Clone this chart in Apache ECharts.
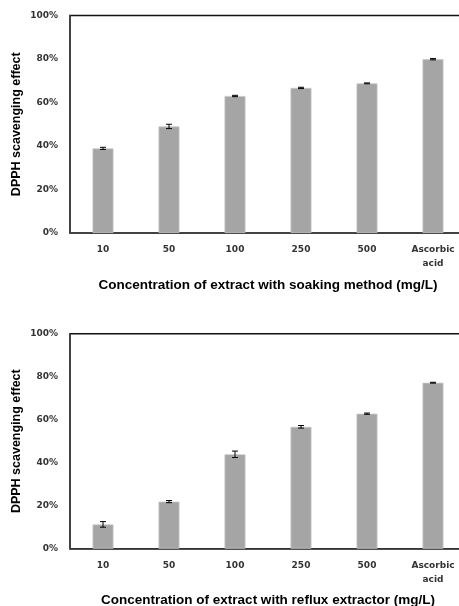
<!DOCTYPE html>
<html><head><meta charset="utf-8">
<script src="https://cdn.jsdelivr.net/npm/echarts@6/dist/echarts.min.js"></script>
<style>html,body{margin:0;padding:0;background:#fff}#c{width:459px;height:606px}</style>
</head><body><div id="c"></div>
<script>
const categories = ['10', '50', '100', '250', '500', 'Ascorbic\nacid'];
const yTicks = [0, 20, 40, 60, 80, 100];
const soakValues = [38.9, 49.0, 63.0, 66.7, 68.8, 79.9];
const soakErrors = [0.5, 1.0, 0.3, 0.3, 0.2, 0.3];
const refluxValues = [11.3, 21.9, 43.9, 56.7, 62.8, 77.2];
const refluxErrors = [1.3, 0.5, 1.5, 0.6, 0.3, 0.2];
const xTitles = ['Concentration of extract with soaking method (mg/L)', 'Concentration of extract with reflux extractor (mg/L)'];
const yTitle = 'DPPH scavenging effect';

const chart = echarts.init(document.getElementById('c'));
const grids = [
  {left: 70, top: 15.5, width: 396, height: 217.5},
  {left: 70, top: 333.7, width: 396, height: 215}
];
function xAxis(i) {
  return {
    type: 'category', gridIndex: i, data: categories,
    axisLine: {lineStyle: {color: '#404040', width: 1.5}},
    axisTick: {show: false},
    axisLabel: {color: '#333', fontSize: 9, fontWeight: 'bold', fontFamily: 'DejaVu Sans', margin: 10, lineHeight: 14},
    name: xTitles[i], nameLocation: 'middle', nameGap: 45,
    nameTextStyle: {fontSize: 13.5, fontWeight: 'bold', color: '#000', fontFamily: 'Liberation Sans'}
  };
}
function yAxis(i) {
  return {
    type: 'value', gridIndex: i, min: 0, max: 100, interval: 20,
    axisLine: {show: true, lineStyle: {color: '#404040', width: 1.5}},
    axisTick: {show: false},
    splitLine: {show: false},
    axisLabel: {color: '#333', fontSize: 9, fontWeight: 'bold', fontFamily: 'DejaVu Sans', margin: 12, formatter: v => v + '%'},
    name: yTitle, nameLocation: 'middle', nameGap: 47, nameMoveOverlap: false,
    nameTextStyle: {fontSize: 12.5, fontWeight: 'bold', color: '#000', fontFamily: 'Liberation Sans'}
  };
}
function errSeries(i, vals, errs) {
  return {
    type: 'custom', xAxisIndex: i, yAxisIndex: i, z: 10,
    data: vals.map((v, k) => [k, v - errs[k], v + errs[k]]),
    renderItem: function (params, api) {
      const lo = api.coord([api.value(0), api.value(1)]);
      const hi = api.coord([api.value(0), api.value(2)]);
      const hw = 3;
      const st = {stroke: '#000', lineWidth: 1};
      return {type: 'group', children: [
        {type: 'line', shape: {x1: lo[0], y1: lo[1], x2: hi[0], y2: hi[1]}, style: st},
        {type: 'line', shape: {x1: lo[0]-hw, y1: lo[1], x2: lo[0]+hw, y2: lo[1]}, style: st},
        {type: 'line', shape: {x1: hi[0]-hw, y1: hi[1], x2: hi[0]+hw, y2: hi[1]}, style: st}
      ]};
    }
  };
}
function barSeries(i, vals) {
  return {
    type: 'bar', xAxisIndex: i, yAxisIndex: i, data: vals, barWidth: 21,
    itemStyle: {color: '#a5a5a5', borderColor: '#c8c8c8', borderWidth: 0.8}
  };
}
chart.setOption({
  animation: false,
  grid: grids.map(g => Object.assign({show: true, borderColor: '#111', borderWidth: 1.5, backgroundColor: 'transparent', outerBoundsMode: 'none', containLabel: false}, g)),
  xAxis: [xAxis(0), xAxis(1)],
  yAxis: [yAxis(0), yAxis(1)],
  series: [
    barSeries(0, soakValues), errSeries(0, soakValues, soakErrors),
    barSeries(1, refluxValues), errSeries(1, refluxValues, refluxErrors)
  ]
});
</script></body></html>
